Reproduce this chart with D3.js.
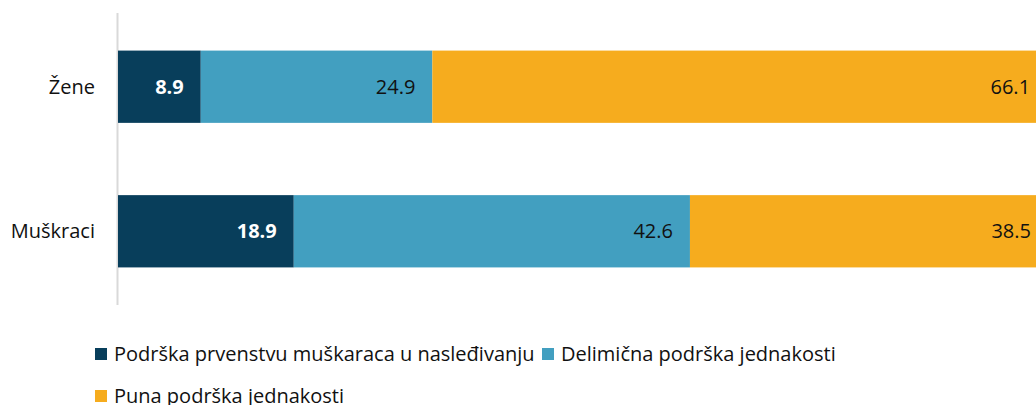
<!DOCTYPE html>
<html>
<head>
<meta charset="utf-8">
<script src="https://cdn.jsdelivr.net/npm/d3@7"></script>
<style>
  body { margin: 0; background: #fff; }
  svg { display: block; font-family: 'Open Sans', 'Noto Sans', sans-serif; }
</style>
</head>
<body>
<div id="chart"></div>
<script>
// data
const categories = ['Žene', 'Muškraci']
const seriesNames = ['Podrška prvenstvu muškaraca u nasleđivanju', 'Delimična podrška jednakosti', 'Puna podrška jednakosti']
const seriesColors = ['#083e5b', '#429fc0', '#f6ac1e']
const prvenstvo = [8.9, 18.9]
const delimicna = [24.9, 42.6]
const puna = [66.1, 38.5]

const width = 1036, height = 405
const svg = d3.select('#chart').append('svg').attr('width', width).attr('height', height)

const rows = categories.map((c, i) => ({ cat: c, v: [prvenstvo[i], delimicna[i], puna[i]] }))

const x = d3.scaleLinear().domain([0, 100]).range([118, 1048])
const y = d3.scaleBand().domain(categories).range([13, 305]).paddingInner(0.5).paddingOuter(0.26)

// axis line
svg.append('line')
    .attr('x1', 117.5).attr('x2', 117.5)
    .attr('y1', 13).attr('y2', 305)
    .attr('stroke', '#d9d9d9').attr('stroke-width', 2)

const g = svg.append('g')
rows.forEach(r => {
    let acc = 0
    r.v.forEach((v, j) => {
        const x0 = x(acc), x1 = x(acc + v)
        acc += v
        g.append('rect')
            .attr('x', x0).attr('y', y(r.cat))
            .attr('width', x1 - x0).attr('height', y.bandwidth())
            .attr('fill', seriesColors[j])
        g.append('text')
            .attr('x', x1 - 17).attr('y', y(r.cat) + y.bandwidth() / 2)
            .attr('dy', '0.36em')
            .attr('text-anchor', 'end')
            .attr('font-size', 20)
            .attr('font-weight', j === 0 ? 'bold' : 'normal')
            .attr('fill', j === 0 ? '#fff' : '#111')
            .text(v.toFixed(1))
    })
})

// category labels
svg.append('g').selectAll('text')
    .data(categories).enter()
    .append('text')
        .attr('x', 95)
        .attr('y', d => y(d) + y.bandwidth() / 2)
        .attr('dy', '0.36em')
        .attr('text-anchor', 'end')
        .attr('font-size', 20)
        .attr('fill', '#111')
        .text(d => d)

// legend
const legendPos = [[95, 354], [542, 354], [95, 396]]
const leg = svg.append('g')
seriesNames.forEach((name, i) => {
    const [lx, ly] = legendPos[i]
    leg.append('rect')
        .attr('x', lx).attr('y', ly - 6)
        .attr('width', 12).attr('height', 12)
        .attr('fill', seriesColors[i])
    leg.append('text')
        .attr('x', lx + 19).attr('y', ly)
        .attr('dy', '0.36em')
        .attr('font-size', 20)
        .attr('fill', '#111')
        .text(name)
})
</script>
</body>
</html>
